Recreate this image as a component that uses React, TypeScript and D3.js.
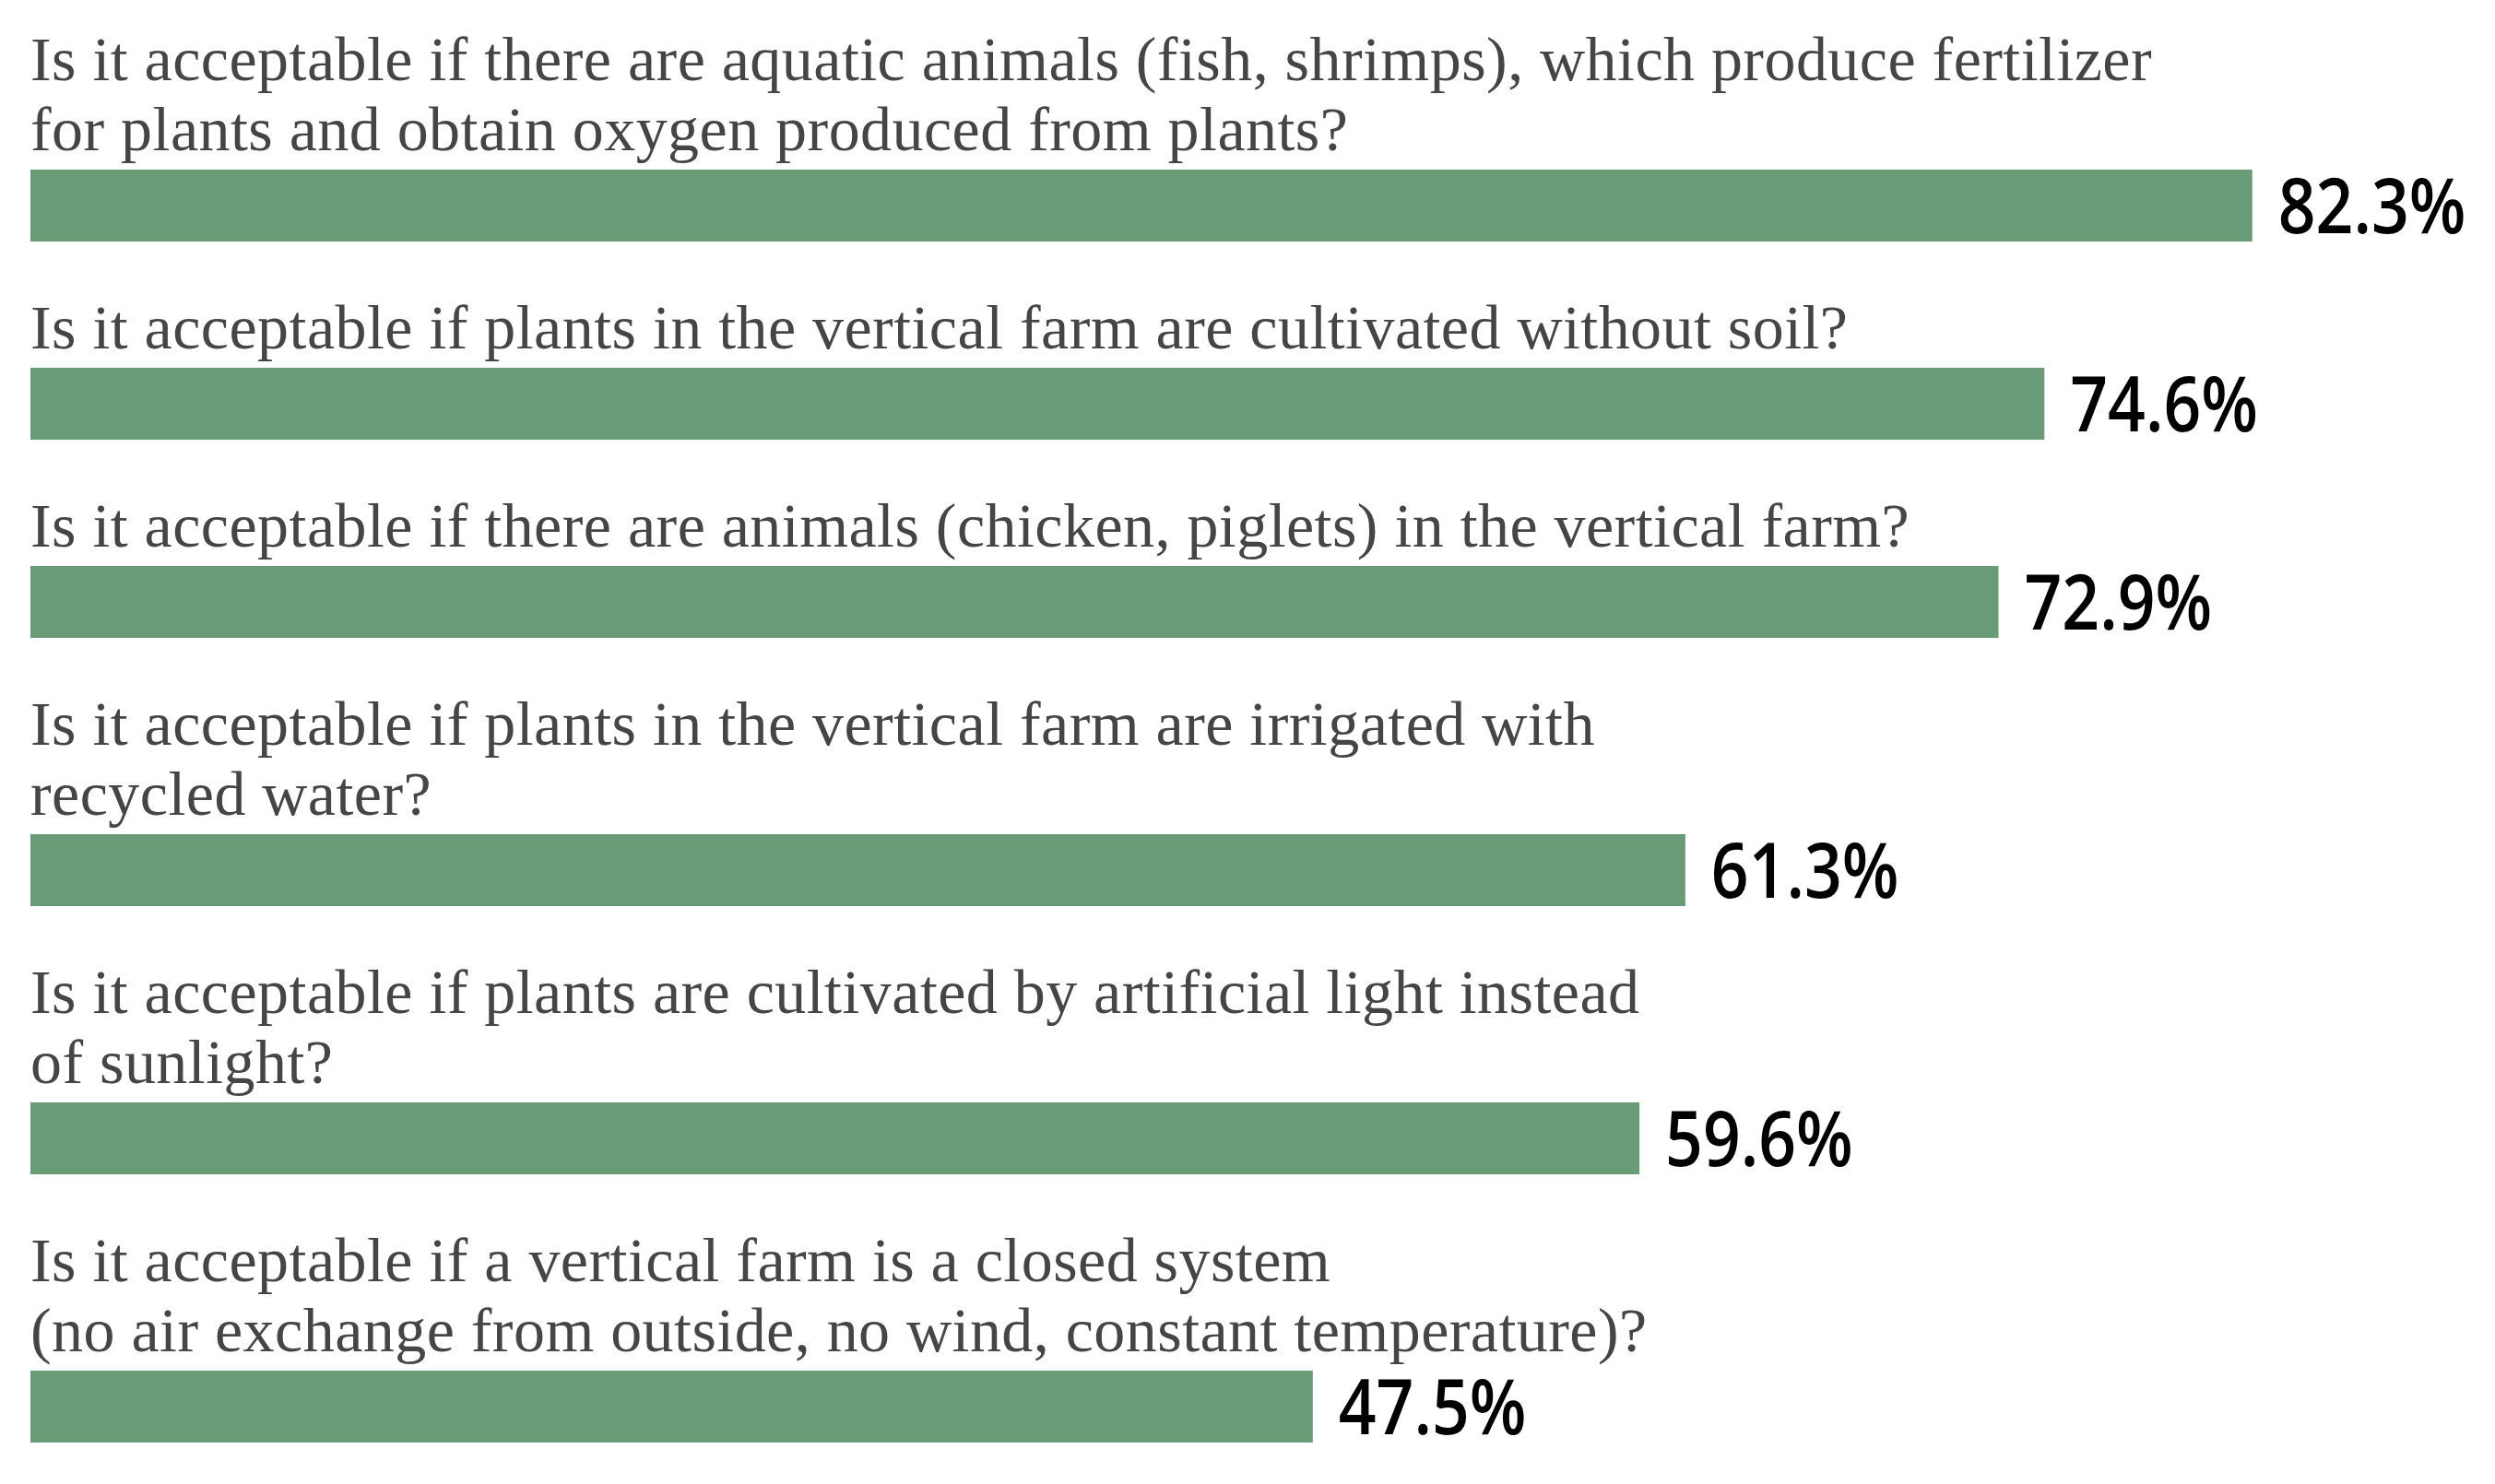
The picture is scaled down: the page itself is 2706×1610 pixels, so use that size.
import React, { useEffect } from "react";
import * as d3 from "d3";

// Question labels (each entry = lines of the wrapped label)
const questions: string[][] = [
  [
    "Is it acceptable if there are aquatic animals (fish, shrimps), which produce fertilizer",
    "for plants and obtain oxygen produced from plants?",
  ],
  ["Is it acceptable if plants in the vertical farm are cultivated without soil?"],
  ["Is it acceptable if there are animals (chicken, piglets) in the vertical farm?"],
  [
    "Is it acceptable if plants in the vertical farm are irrigated with",
    "recycled water?",
  ],
  [
    "Is it acceptable if plants are cultivated by artificial light instead",
    "of sunlight?",
  ],
  [
    "Is it acceptable if a vertical farm is a closed system",
    "(no air exchange from outside, no wind, constant temperature)?",
  ],
];

const values: number[] = [82.3, 74.6, 72.9, 61.3, 59.6, 47.5];

const W = 2706;
const H = 1610;
const LEFT = 33;
const BAR_H = 78;
const LINE_H = 76;
const GAP = 61;
const TOP = 32;
const LABEL_FONT = 68;
const VALUE_FONT = 84;
const BAR_COLOR = "#6A9B77";

export default function App() {
  useEffect(() => {
    document.body.style.margin = "0";
  }, []);

  const x = d3.scaleLinear().domain([0, 100]).range([LEFT, LEFT + 2928]);

  // cumulative vertical layout
  let cursor = TOP;
  const blocks = questions.map((lines, i) => {
    const labelTop = cursor;
    const barTop = labelTop + lines.length * LINE_H;
    cursor = barTop + BAR_H + GAP;
    return { lines, value: values[i], labelTop, barTop };
  });

  return (
    <svg
      width={W}
      height={H}
      viewBox={`0 0 ${W} ${H}`}
      style={{ position: "absolute", left: 0, top: 0, background: "#fff" }}
    >
      {blocks.map((b, i) => {
        const barEnd = x(b.value);
        const cy = b.barTop + BAR_H / 2;
        return (
          <g key={i}>
            {b.lines.map((ln, j) => (
              <text
                key={j}
                x={LEFT}
                y={b.barTop - 21 - (b.lines.length - 1 - j) * LINE_H}
                fontFamily="'Liberation Serif', 'Times New Roman', serif"
                fontSize={LABEL_FONT}
                letterSpacing={0.45}
                fill="#454545"
              >
                {ln}
              </text>
            ))}
            <rect
              x={x(0)}
              y={b.barTop}
              width={barEnd - x(0)}
              height={BAR_H}
              fill={BAR_COLOR}
            />
            <text
              transform={`translate(${barEnd + 28},${cy + 0.36 * VALUE_FONT}) scale(0.85,1)`}
              fontFamily="'Open Sans', 'Noto Sans', sans-serif"
              fontSize={VALUE_FONT}
              fontWeight={600}
              fill="#000"
            >
              {b.value.toFixed(1)}%
            </text>
          </g>
        );
      })}
    </svg>
  );
}
